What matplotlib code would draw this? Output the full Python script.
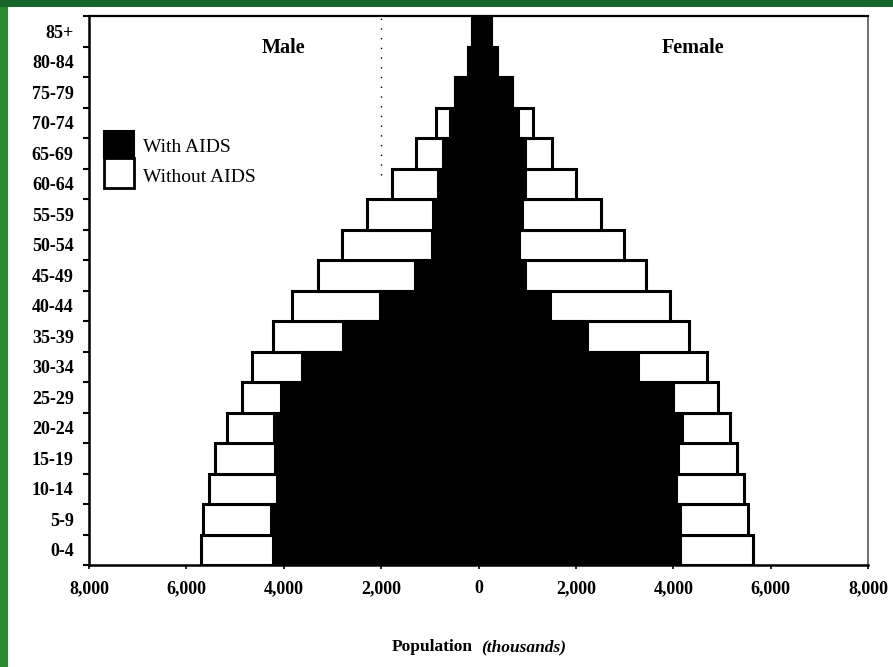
import matplotlib
matplotlib.use("Agg")
import matplotlib.pyplot as plt
import numpy as np
from matplotlib.patches import Rectangle

age_groups = ["0-4", "5-9", "10-14", "15-19", "20-24", "25-29", "30-34", "35-39",
              "40-44", "45-49", "50-54", "55-59", "60-64", "65-69", "70-74",
              "75-79", "80-84", "85+"]
male_without_aids = [5700, 5650, 5530, 5410, 5170, 4850, 4660, 4220, 3830,
                     3300, 2800, 2290, 1780, 1280, 870, 480, 215, 130]
male_with_aids = [4220, 4260, 4140, 4170, 4200, 4060, 3620, 2780, 2020,
                  1300, 960, 930, 830, 730, 585, 480, 215, 130]
female_without_aids = [5640, 5540, 5450, 5300, 5160, 4920, 4690, 4320, 3930,
                       3440, 2990, 2510, 2000, 1510, 1120, 690, 380, 260]
female_with_aids = [4140, 4140, 4050, 4100, 4180, 4000, 3280, 2220, 1470,
                    955, 830, 890, 955, 955, 810, 690, 380, 260]
x_ticks = [-8000, -6000, -4000, -2000, 0, 2000, 4000, 6000, 8000]
x_tick_labels = ["8,000", "6,000", "4,000", "2,000", "0", "2,000", "4,000", "6,000", "8,000"]

serif = ["Liberation Serif", "DejaVu Serif"]

fig = plt.figure(figsize=(8.93, 6.67), dpi=100)
fig.patch.set_facecolor("white")
# green frame (top and left)
fig.patches.append(Rectangle((0, 0), 8 / 893, 1, transform=fig.transFigure,
                             facecolor="#2a8a32", edgecolor="none", zorder=0))
fig.patches.append(Rectangle((0, 1 - 7 / 667), 1, 7 / 667, transform=fig.transFigure,
                             facecolor="#16652c", edgecolor="none", zorder=0))

ax = fig.add_axes([89 / 893, 102 / 667, 779 / 893, 549 / 667])
y = np.arange(len(age_groups))
lw = 2.2

ax.barh(y, -np.array(male_without_aids), height=1.0, color="white",
        edgecolor="black", linewidth=lw, zorder=2)
ax.barh(y, np.array(female_without_aids), height=1.0, color="white",
        edgecolor="black", linewidth=lw, zorder=2)
ax.barh(y, -np.array(male_with_aids), height=1.0, color="black",
        edgecolor="black", linewidth=lw, zorder=3)
ax.barh(y, np.array(female_with_aids), height=1.0, color="black",
        edgecolor="black", linewidth=lw, zorder=3)

# faint dotted remnant gridline
ax.plot([-2000, -2000], [12.3, 17.5], color="black", linewidth=1.0,
        linestyle=(0, (1, 6)), zorder=1)

ax.set_xlim(-8000, 8000)
ax.set_ylim(-0.5, 17.5)
ax.set_xticks(x_ticks)
ax.set_xticklabels(x_tick_labels, fontfamily=serif, fontweight="bold", fontsize=13)
ax.set_yticks(y)
ax.set_yticklabels(age_groups, fontfamily=serif, fontweight="bold", fontsize=13)
ax.set_yticks(np.arange(-0.5, 17.6, 1.0), minor=True)
ax.tick_params(axis="y", which="major", length=0, pad=11)
ax.tick_params(axis="y", which="minor", length=4, width=1.5, direction="out")
ax.tick_params(axis="x", which="major", length=3, width=1.2, direction="out", pad=8)

for side in ["left", "bottom"]:
    ax.spines[side].set_linewidth(1.8)
    ax.spines[side].set_color("black")
ax.spines["top"].set_linewidth(1.6)
ax.spines["top"].set_color("black")
ax.spines["right"].set_linewidth(1.2)
ax.spines["right"].set_color("#555555")
ax.spines["right"].set_linestyle((0, (1, 1)))

ax.text(-4000, 16.45, "Male", ha="center", va="center", fontfamily=serif,
        fontweight="bold", fontsize=14.5)
ax.text(4400, 16.45, "Female", ha="center", va="center", fontfamily=serif,
        fontweight="bold", fontsize=14.5)

# legend
fig.patches.append(Rectangle((104 / 893, 1 - 158 / 667), 30 / 893, 27 / 667,
                             transform=fig.transFigure, facecolor="black",
                             edgecolor="black", linewidth=1.5, zorder=5))
fig.patches.append(Rectangle((104 / 893, 1 - 188 / 667), 30 / 893, 30 / 667,
                             transform=fig.transFigure, facecolor="white",
                             edgecolor="black", linewidth=2.0, zorder=5))
fig.text(143 / 893, 1 - 148 / 667, "With AIDS", ha="left", va="center",
         fontfamily=serif, fontsize=14)
fig.text(143 / 893, 1 - 177 / 667, "Without AIDS", ha="left", va="center",
         fontfamily=serif, fontsize=14)

# x label
fig.text(473 / 893, 1 - 647 / 667, "Population", ha="right", va="center",
         fontfamily=serif, fontweight="bold", fontsize=12.5)
fig.text(481 / 893, 1 - 647 / 667, "(thousands)", ha="left", va="center",
         fontfamily=serif, fontweight="bold", fontstyle="italic", fontsize=12.5)

fig.savefig("out.png", dpi=100, facecolor=fig.get_facecolor())
